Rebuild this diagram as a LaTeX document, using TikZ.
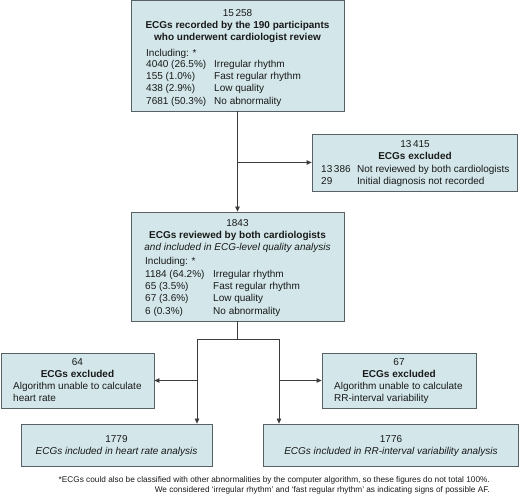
\documentclass[tikz,border=0pt]{standalone}
\usepackage{fontspec}
\setmainfont{Liberation Sans}
\usetikzlibrary{arrows.meta}
\definecolor{boxfill}{RGB}{211,231,234}
\definecolor{boxdraw}{RGB}{88,98,100}
\definecolor{linec}{RGB}{60,60,60}
\tikzset{
  box/.style={draw=boxdraw, fill=boxfill, line width=0.8pt, inner sep=0pt, rectangle},
  txt/.style={font=\fontsize{10}{12}\selectfont, inner sep=0pt, anchor=base, text=black!90},
  txtl/.style={txt, anchor=base west},
  bld/.style={txt, font=\fontsize{10}{12}\selectfont\bfseries},
  itl/.style={txt, font=\fontsize{10}{12}\selectfont\itshape},
  fn/.style={font=\fontsize{8.25}{10}\selectfont, inner sep=0pt, anchor=base east, text=black!90},
  conn/.style={draw=linec, line width=0.8pt},
  arr/.style={conn, -{Triangle[length=5pt,width=4.5pt]}}
}
\begin{document}
\begin{tikzpicture}[x=1pt,y=-1pt]
\useasboundingbox (0,0) rectangle (520,494);
% boxes
\node[box, minimum width=213pt, minimum height=110.5pt] (b1) at (237.5,55.75) {};
\node[box, minimum width=205pt, minimum height=57pt] (b2) at (414.5,162.5) {};
\node[box, minimum width=213pt, minimum height=109pt] (b3) at (237.5,266.5) {};
\node[box, minimum width=153pt, minimum height=55pt] (b64) at (77.5,380.5) {};
\node[box, minimum width=154pt, minimum height=55pt] (b67) at (399,380.5) {};
\node[box, minimum width=191pt, minimum height=42pt] (b79) at (116.5,445) {};
\node[box, minimum width=255.5pt, minimum height=42pt] (b76) at (391,445) {};
% box 1 text
\node[txt] (t1n) at (237.5,17) {15\,258};
\node[bld] (t1a) at (237.5,28.6) {ECGs recorded by the 190 participants};
\node[bld] (t1b) at (237.5,40.6) {who underwent cardiologist review};
\node[txtl] (t1i) at (146,57) {Including: *};
\node[txtl] (t1r1) at (146,67.3) {4040 (26.5\%)};
\node[txtl] (t1s1) at (214,67.3) {Irregular rhythm};
\node[txtl] (t1r2) at (146,79.6) {155 (1.0\%)};
\node[txtl] (t1s2) at (214,79.6) {Fast regular rhythm};
\node[txtl] (t1r3) at (146,91.9) {438 (2.9\%)};
\node[txtl] (t1s3) at (214,91.9) {Low quality};
\node[txtl] (t1r4) at (146,104.2) {7681 (50.3\%)};
\node[txtl] (t1s4) at (214,104.2) {No abnormality};
% box 2 text
\node[txt] (t2n) at (415,147.6) {13\,415};
\node[bld] (t2a) at (415,159.6) {ECGs excluded};
\node[txtl] (t2r1) at (321,173) {13\,386};
\node[txtl] (t2s1) at (357,173) {Not reviewed by both cardiologists};
\node[txtl] (t2r2) at (321,184.8) {29};
\node[txtl] (t2s2) at (357,184.8) {Initial diagnosis not recorded};
% box 3 text
\node[txt] (t3n) at (237.5,226.6) {1843};
\node[bld] (t3a) at (237.5,238.2) {ECGs reviewed by both cardiologists};
\node[itl] (t3b) at (237.5,250.4) {and included in ECG-level quality analysis};
\node[txtl] (t3i) at (145,264.4) {Including: *};
\node[txtl] (t3r1) at (145,277.2) {1184 (64.2\%)};
\node[txtl] (t3s1) at (213,277.2) {Irregular rhythm};
\node[txtl] (t3r2) at (145,289.6) {65 (3.5\%)};
\node[txtl] (t3s2) at (213,289.6) {Fast regular rhythm};
\node[txtl] (t3r3) at (145,302) {67 (3.6\%)};
\node[txtl] (t3s3) at (213,302) {Low quality};
\node[txtl] (t3r4) at (145,314.4) {6 (0.3\%)};
\node[txtl] (t3s4) at (213,314.4) {No abnormality};
% box 64 text
\node[txt] (t4n) at (77.5,365.3) {64};
\node[bld] (t4a) at (77.5,377.2) {ECGs excluded};
\node[txtl] (t4b) at (13,389.6) {Algorithm unable to calculate};
\node[txtl] (t4c) at (13,401.8) {heart rate};
% box 67 text
\node[txt] (t5n) at (399,365.3) {67};
\node[bld] (t5a) at (399,377.2) {ECGs excluded};
\node[txtl] (t5b) at (334,389.6) {Algorithm unable to calculate};
\node[txtl] (t5c) at (334,401.8) {RR-interval variability};
% box 1779 / 1776 text
\node[txt] (t6n) at (116.5,443) {1779};
\node[itl] (t6a) at (116.5,454.8) {ECGs included in heart rate analysis};
\node[txt] (t7n) at (391,443) {1776};
\node[itl] (t7a) at (391,454.8) {ECGs included in RR-interval variability analysis};
% footnote
\node[fn] (f1) at (490,482.8) {*ECGs could also be classified with other abnormalities by the computer algorithm, so these figures do not total 100\%.};
\node[fn] (f2) at (490,492.6) {We considered `irregular rhythm' and `fast regular rhythm' as indicating signs of possible AF.};
% connectors
\coordinate (j1) at (b1.south |- b2.west);
\draw[arr] (b1.south) -- (b3.north);
\draw[arr] (j1) -- (b2.west);
\coordinate (j2) at (237.5,339);
\coordinate (jl) at (197,339);
\coordinate (jr) at (279,339);
\draw[conn] (b3.south) -- (j2);
\draw[conn] (jl) -- (jr);
\draw[arr] (jl) -- (jl |- b79.north);
\draw[arr] (jr) -- (jr |- b76.north);
\draw[arr] (jl |- b64.east) -- (b64.east);
\draw[arr] (jr |- b67.west) -- (b67.west);
\end{tikzpicture}
\end{document}
